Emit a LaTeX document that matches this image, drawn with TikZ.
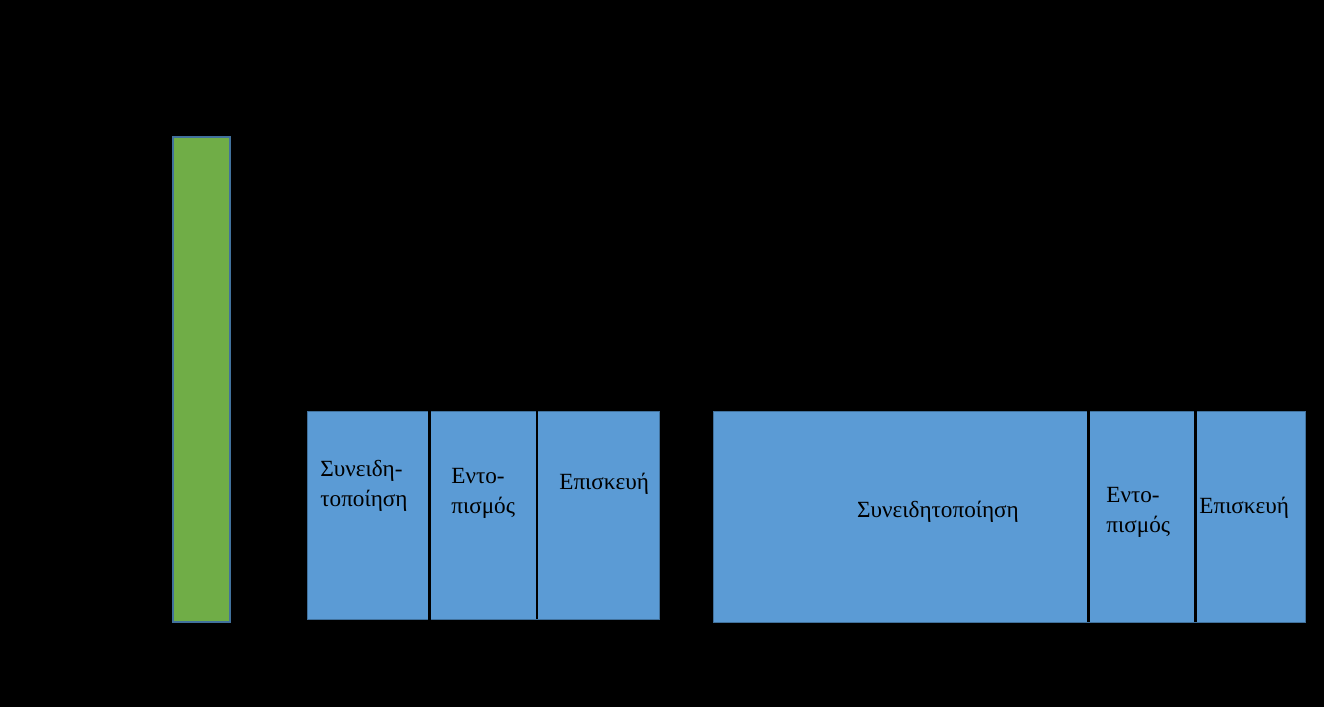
\documentclass[tikz,border=0pt]{standalone}
\usepackage{fontspec}
\setmainfont{Liberation Serif}
\definecolor{barblue}{HTML}{5B9BD5}
\definecolor{bargreen}{HTML}{70AD47}
\definecolor{edgeblue}{HTML}{41719C}
\tikzset{
    phase/.style={fill=barblue, draw=edgeblue, line width=0.5pt},
    phasetext/.style={anchor=base west, inner sep=0pt, align=left, font=\fontsize{13.2}{16.8}\selectfont},
    divider/.style={draw=black, line width=1.4pt}
}
\begin{document}
\begin{tikzpicture}[x=0.02cm, y=-0.02cm]
    \fill[black] (0,0) rectangle (1324,707);
    \useasboundingbox (0,0) rectangle (1324,707);
    % green bar
    \filldraw[fill=bargreen, draw=edgeblue, line width=0.7pt] (173,137) rectangle (230,622);
    % first group
    \filldraw[phase] (307,411) rectangle (659,619);
    \draw[divider] (429.5,408) -- (429.5,624);
    \draw[divider] (537,411) -- (537,619);
    \node[phasetext] (aware1) at (320,506) {Συνειδη-\\τοποίηση};
    \node[phasetext] (locate1) at (451,513) {Εντο-\\πισμός};
    \node[phasetext] (repair1) at (559,489) {Επισκευή};
    % second group
    \filldraw[phase] (713,411) rectangle (1305,622);
    \draw[divider] (1088.5,411) -- (1088.5,622);
    \draw[divider] (1195.5,411) -- (1195.5,622);
    \node[phasetext, anchor=base] (aware2) at (938,517) {Συνειδητοποίηση};
    \node[phasetext] (locate2) at (1106,532) {Εντο-\\πισμός};
    \node[phasetext] (repair2) at (1199,513) {Επισκευή};
\end{tikzpicture}
\end{document}
